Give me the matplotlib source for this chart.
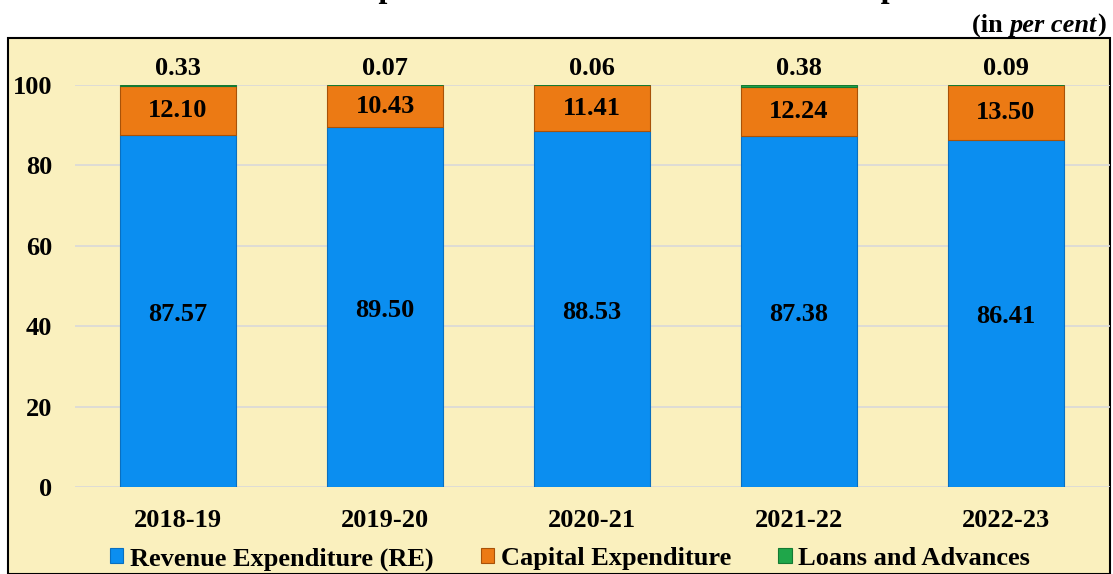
import matplotlib.pyplot as plt
from matplotlib.patches import Rectangle
import numpy as np

years = ['2018-19', '2019-20', '2020-21', '2021-22', '2022-23']
revenue = [87.57, 89.50, 88.53, 87.38, 86.41]
capital = [12.10, 10.43, 11.41, 12.24, 13.50]
loans = [0.33, 0.07, 0.06, 0.38, 0.09]

blue = '#0B8EF0'
orange = '#EC7A14'
green = '#1FA64A'
bg = '#FAF0BE'

plt.rcParams['font.family'] = ['Liberation Serif', 'DejaVu Serif']
plt.rcParams['font.weight'] = 'bold'

W, H = 1113, 574
fig = plt.figure(figsize=(W / 100, H / 100), dpi=100)

# yellow chart box, behind the axes
fig.patches.append(Rectangle((8 / W, 0), (1110 - 8) / W, 1 - 38 / H,
                             transform=fig.transFigure, facecolor=bg,
                             edgecolor='black', linewidth=1.5, zorder=-5))

# title (cut off at the top of the image, as in the source)
fig.text(555 / W, 1 + 3 / H, 'Chart 1.5: Total expenditure: Trends in share of its components',
         ha='center', va='baseline', fontsize=23, fontweight='bold')

# "(in per cent)" with italic part, built right to left
renderer = fig.canvas.get_renderer()
xr = 1106 / W
yb = 1 - 32 / H
for part, style in [(')', 'normal'), ('per cent', 'italic'), ('(in ', 'normal')]:
    t = fig.text(xr, yb, part, ha='right', va='baseline', fontsize=19,
                 fontweight='bold', fontstyle=style)
    bb = t.get_window_extent(renderer)
    xr = bb.x0 / W

ax = fig.add_axes([74.5 / W, 1 - 487 / H, 1035 / W, 402 / H])
ax.set_facecolor('none')
x = np.arange(len(years))
w = 0.556

rev = np.array(revenue)
cap = np.array(capital)
lo = np.array(loans)

ax.bar(x, rev, w, color=blue, edgecolor='#0a6fbf', linewidth=0.8,
       label='Revenue Expenditure (RE)', zorder=3)
ax.bar(x, cap, w, bottom=rev, color=orange, edgecolor='#a85208', linewidth=0.8,
       label='Capital Expenditure', zorder=3)
ax.bar(x, lo, w, bottom=rev + cap, color=green, edgecolor='#147a33', linewidth=0.8,
       label='Loans and Advances', zorder=3)

for i in range(len(years)):
    ax.text(x[i], rev[i] / 2 - 0.8, f'{revenue[i]:.2f}', ha='center', va='center',
            fontsize=19, fontweight='bold', zorder=4)
    ax.text(x[i], rev[i] + cap[i] / 2, f'{capital[i]:.2f}', ha='center', va='center',
            fontsize=19, fontweight='bold', zorder=4)
    ax.text(x[i], 100 + 4, f'{loans[i]:.2f}', ha='center', va='center',
            fontsize=19, fontweight='bold', zorder=4, clip_on=False)

ax.set_xlim(-0.5, 4.5)
ax.set_ylim(0, 100)
ax.set_yticks([0, 20, 40, 60, 80, 100])
ax.set_xticks(x)
ax.set_xticklabels(years)
ax.grid(axis='y', color='#d9d9d9', linewidth=1.2, zorder=0)
ax.set_axisbelow(True)
for s in ax.spines.values():
    s.set_visible(False)
ax.tick_params(axis='both', length=0, labelsize=19)
ax.tick_params(axis='y', pad=16)
ax.tick_params(axis='x', pad=16)
for lbl in ax.get_xticklabels() + ax.get_yticklabels():
    lbl.set_fontweight('bold')

ax.legend(loc='center', bbox_to_anchor=(570 / W, 1 - 559 / H), bbox_transform=fig.transFigure,
          ncol=3, frameon=False, handlelength=0.5, handleheight=0.5,
          handletextpad=0.25, columnspacing=1.8, prop={'weight': 'bold', 'size': 19})

fig.savefig('out.png', dpi=100, facecolor='white')
